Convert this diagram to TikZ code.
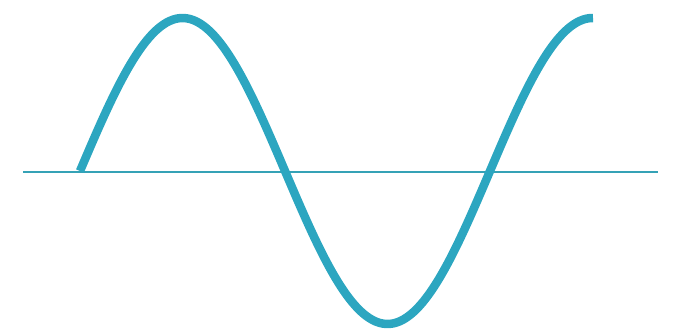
\documentclass[tikz,border=0pt]{standalone}
\usepackage{tikz}
\definecolor{Wave}{HTML}{2CA6C0}
\definecolor{Axis}{HTML}{35A2B6}

\begin{document}
\begin{tikzpicture}[x=1pt,y=-1pt,
axis/.style={draw=Axis,line width=2.4pt},
wave/.style={draw=Wave,line width=8.5pt}]
\useasboundingbox (0,0) rectangle (680,335);
\coordinate (left) at (23,172);
\coordinate (right) at (658,172);
\draw[axis] (left)--(right);
\draw[wave] plot[domain=80:593,samples=150,smooth] (\x,{171-153*sin((\x-80)/205*180)});
\end{tikzpicture}
\end{document}
